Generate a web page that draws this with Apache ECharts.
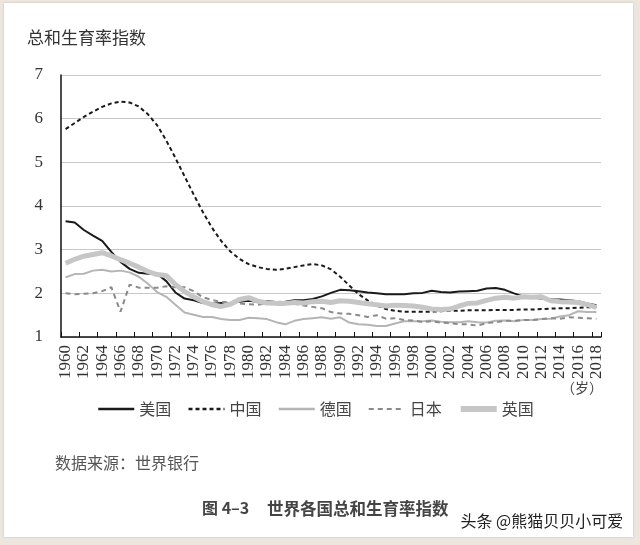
<!DOCTYPE html>
<html><head><meta charset="utf-8">
<script src="https://cdn.jsdelivr.net/npm/echarts@6/dist/echarts.min.js"></script>
<style>
html,body{margin:0;padding:0;background:#ece6df;width:640px;height:545px;overflow:hidden;}
#panel{position:absolute;left:4px;top:3px;width:629px;height:534px;background:#fff;box-shadow:0 0 2px rgba(0,0,0,0.18);}
#chart{position:absolute;left:0;top:0;width:640px;height:545px;}
</style></head><body>
<div id="panel"></div><div id="chart"></div>
<script>
const years = ['1960','1961','1962','1963','1964','1965','1966','1967','1968','1969',
  '1970','1971','1972','1973','1974','1975','1976','1977','1978','1979',
  '1980','1981','1982','1983','1984','1985','1986','1987','1988','1989',
  '1990','1991','1992','1993','1994','1995','1996','1997','1998','1999',
  '2000','2001','2002','2003','2004','2005','2006','2007','2008','2009',
  '2010','2011','2012','2013','2014','2015','2016','2017','2018'];

const usa = [3.65,3.62,3.45,3.32,3.20,2.95,2.72,2.56,2.47,2.45,
  2.45,2.28,2.02,1.88,1.84,1.78,1.76,1.78,1.77,1.81,
  1.83,1.81,1.82,1.80,1.81,1.84,1.84,1.87,1.93,2.01,
  2.08,2.07,2.05,2.02,2.00,1.98,1.98,1.98,2.00,2.01,
  2.06,2.03,2.02,2.04,2.05,2.06,2.11,2.12,2.08,2.00,
  1.93,1.90,1.88,1.86,1.86,1.84,1.82,1.77,1.73];

const china = [5.76,5.90,6.04,6.16,6.27,6.35,6.39,6.37,6.28,6.10,
  5.85,5.50,5.10,4.68,4.26,3.86,3.50,3.20,2.96,2.79,
  2.67,2.60,2.56,2.54,2.56,2.60,2.64,2.67,2.64,2.55,
  2.38,2.18,1.98,1.84,1.72,1.64,1.60,1.58,1.58,1.58,
  1.58,1.59,1.60,1.60,1.61,1.61,1.61,1.62,1.62,1.62,
  1.63,1.63,1.64,1.65,1.66,1.66,1.67,1.68,1.69];

const germany = [2.37,2.44,2.45,2.52,2.54,2.50,2.52,2.48,2.38,2.22,
  2.03,1.92,1.74,1.56,1.51,1.46,1.46,1.41,1.39,1.39,
  1.44,1.43,1.41,1.34,1.29,1.37,1.41,1.43,1.45,1.42,
  1.45,1.33,1.29,1.28,1.25,1.25,1.31,1.36,1.36,1.36,
  1.38,1.35,1.34,1.34,1.36,1.34,1.33,1.37,1.38,1.36,
  1.39,1.39,1.41,1.42,1.47,1.50,1.59,1.57,1.57];

const japan = [2.00,1.98,1.99,2.00,2.05,2.14,1.58,2.20,2.13,2.13,
  2.13,2.16,2.14,2.14,2.05,1.91,1.85,1.80,1.79,1.77,
  1.75,1.74,1.77,1.80,1.81,1.76,1.72,1.69,1.66,1.57,
  1.54,1.53,1.50,1.46,1.50,1.42,1.43,1.39,1.38,1.34,
  1.36,1.33,1.32,1.29,1.29,1.26,1.32,1.34,1.37,1.37,
  1.39,1.39,1.41,1.43,1.42,1.45,1.44,1.43,1.42];

const uk = [2.69,2.78,2.85,2.89,2.93,2.86,2.77,2.69,2.60,2.50,
  2.43,2.41,2.20,2.04,1.92,1.81,1.74,1.70,1.75,1.86,
  1.90,1.82,1.78,1.77,1.77,1.79,1.78,1.81,1.82,1.79,
  1.83,1.82,1.79,1.76,1.74,1.71,1.73,1.72,1.71,1.68,
  1.64,1.63,1.64,1.71,1.77,1.78,1.84,1.89,1.91,1.89,
  1.92,1.91,1.92,1.83,1.81,1.80,1.79,1.74,1.68];

const cjk = "'Noto Sans CJK SC', sans-serif";
const serif = "'Liberation Serif', 'DejaVu Serif', serif";

const chart = echarts.init(document.getElementById('chart'), null, {renderer:'canvas'});
function mk(name, data, color, width, type){
  return {name, type:'line', data, symbol:'none', showSymbol:false,
    lineStyle:{color, width, type: type || 'solid'}, itemStyle:{color},
    emphasis:{disabled:true}};
}
chart.setOption({
  animation:false,
  backgroundColor:'transparent',
  grid:{left:61, right:39, top:75, bottom:208, containLabel:false},
  xAxis:{type:'category', data:years, boundaryGap:true,
    axisLine:{lineStyle:{color:'#111', width:1.5}},
    axisTick:{show:true, inside:true, length:5, interval:1, lineStyle:{color:'#111', width:1}},
    axisLabel:{interval:1, rotate:90, fontFamily:serif, fontSize:17, color:'#333', margin:8},
    splitLine:{show:false}},
  yAxis:{type:'value', min:1, max:7, interval:1,
    axisLine:{show:true, lineStyle:{color:'#111', width:1.5}},
    axisTick:{show:false},
    axisLabel:{fontFamily:serif, fontSize:17, color:'#333', margin:18},
    splitLine:{lineStyle:{color:'#c8c8c8', width:1}}},
  legend:{left:97, top:401, itemWidth:36, itemHeight:14, itemGap:16, padding:0,
    itemStyle:{opacity:0},
    textStyle:{fontFamily:cjk, fontSize:16, color:'#444'},
    data:[
      {name:'美国', lineStyle:{width:2.5}},
      {name:'中国', lineStyle:{width:2.5}},
      {name:'德国', lineStyle:{width:2.5}},
      {name:'日本', lineStyle:{width:2}},
      {name:'英国', lineStyle:{width:6}}
    ]},
  series:[
    mk('美国', usa, '#1a1a1a', 2),
    mk('中国', china, '#1a1a1a', 2, [4,3]),
    mk('德国', germany, '#b5b5b5', 2),
    mk('日本', japan, '#8a8a8a', 2, [5,4]),
    mk('英国', uk, '#c6c6c6', 5)
  ],
  graphic:[
    {type:'text', left:27, top:29, style:{text:'总和生育率指数', font:"17px "+cjk, fill:'#333'}},
    {type:'text', right:37, top:381, style:{text:'（岁）', font:"14px "+cjk, fill:'#444'}},
    {type:'text', left:55, top:455, style:{text:'数据来源：世界银行', font:"16px "+cjk, fill:'#555'}},
    {type:'text', left:202, top:500, style:{text:'图 4–3', font:"bold 16px "+cjk, fill:'#444'}},
    {type:'text', left:267, top:500, style:{text:'世界各国总和生育率指数', font:"bold 16.5px "+cjk, fill:'#444'}},
    {type:'text', left:459, top:511, style:{text:'头条 @熊猫贝贝小可爱', font:"16px "+cjk, fill:'#222', stroke:'#fff', lineWidth:3}}
  ]
});
</script></body></html>
